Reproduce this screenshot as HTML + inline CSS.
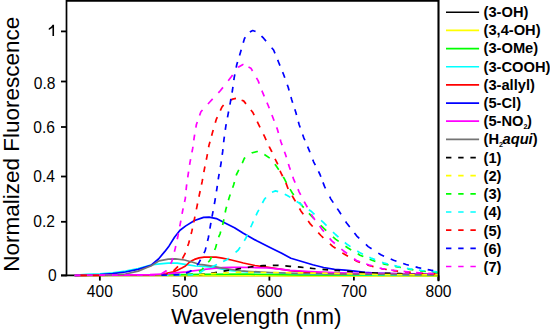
<!DOCTYPE html>
<html><head><meta charset="utf-8"><style>
html,body{margin:0;padding:0;background:#fff;width:550px;height:330px;overflow:hidden}
svg{display:block}
text{font-family:"Liberation Sans",sans-serif;fill:#000}
.tk{font-size:15.6px}
.lb{font-size:22.5px}
.lg{font-size:14.7px;font-weight:bold}
.sub{font-size:7.2px}
.cv path{fill:none;stroke-width:1.7;stroke-linejoin:round}
</style></head><body>
<svg width="550" height="330" viewBox="0 0 550 330">
<rect width="550" height="330" fill="#fff"/>
<path d="M66.5,275.4 V0.9 H438.5 V280.4" stroke="#000" stroke-width="1.7" fill="none" stroke-linecap="square"/>
<path d="M61,275.4 H438.5" stroke="#000" stroke-width="1.8"/>
<path d="M61,31.4 H66.5" stroke="#000" stroke-width="1.8"/>
<path d="M52.5,24.8 L54.05,24.8 L54.05,35.9 L52.45,35.9 L52.45,27.5 C51.7,28.4 50.3,29.3 48.8,29.9 L48.8,28.3 C50.6,27.5 51.8,26.3 52.5,24.8 Z" fill="#000"/>
<path d="M61,81.5 H66.5" stroke="#000" stroke-width="1.8"/>
<text x="55.5" y="88.5" text-anchor="end" class="tk">0.8</text>
<path d="M61,127.0 H66.5" stroke="#000" stroke-width="1.8"/>
<text x="54.9" y="133.4" text-anchor="end" class="tk">0.6</text>
<path d="M61,176.5 H66.5" stroke="#000" stroke-width="1.8"/>
<text x="54.9" y="182.3" text-anchor="end" class="tk">0.4</text>
<path d="M61,221.8 H66.5" stroke="#000" stroke-width="1.8"/>
<text x="54.9" y="226.7" text-anchor="end" class="tk">0.2</text>
<path d="M61,275.5 H66.5" stroke="#000" stroke-width="1.8"/>
<text x="56.6" y="280.5" text-anchor="end" class="tk">0</text>
<path d="M99.85,275.4 V280.6" stroke="#000" stroke-width="1.8"/>
<text x="99.85" y="297.0" text-anchor="middle" class="tk">400</text>
<path d="M185.0,275.4 V280.6" stroke="#000" stroke-width="1.8"/>
<text x="185.0" y="297.0" text-anchor="middle" class="tk">500</text>
<path d="M269.4,275.4 V280.6" stroke="#000" stroke-width="1.8"/>
<text x="269.4" y="297.0" text-anchor="middle" class="tk">600</text>
<path d="M353.9,275.4 V280.6" stroke="#000" stroke-width="1.8"/>
<text x="353.9" y="297.0" text-anchor="middle" class="tk">700</text>
<path d="M438.5,275.4 V280.6" stroke="#000" stroke-width="1.8"/>
<text x="438.5" y="297.0" text-anchor="middle" class="tk">800</text>
<g class="cv">
<path d="M74.7,275.3 L150.0,275.3 L200.0,275.6 L300.0,275.9 L438.5,275.9" stroke="#ffff00"/>
<path d="M74.7,275.3 L150.0,275.0 L200.0,274.3 L250.0,274.2 L300.0,275.0 L438.5,275.3" stroke="#00ff00"/>
<path d="M74.7,275.3 L80.0,274.8 L87.0,274.4 L100.0,273.8 L112.7,272.8 L125.5,271.2 L138.2,268.5 L150.9,265.0 L159.8,263.9 L168.2,263.2 L177.3,263.2 L186.4,264.6 L195.5,266.0 L204.1,266.4 L213.2,267.3 L222.3,269.1 L231.4,270.6 L240.5,271.4 L260.0,272.5 L290.0,273.5 L340.0,274.5 L438.5,275.2" stroke="#00ffff"/>
<path d="M74.7,275.3 L150.0,275.0 L160.9,274.5 L166.4,273.4 L173.6,271.8 L177.3,270.2 L181.8,268.0 L185.5,266.0 L189.1,262.5 L192.3,260.6 L194.5,259.4 L199.1,257.9 L204.1,257.1 L210.0,257.0 L216.0,257.2 L222.3,258.2 L231.4,260.0 L240.5,262.3 L243.3,263.0 L255.0,265.5 L268.3,267.3 L281.7,269.3 L290.0,270.6 L312.7,272.8 L340.0,273.8 L438.5,274.6" stroke="#ff0000"/>
<path d="M74.7,275.3 L88.2,275.0 L100.0,274.5 L112.7,273.6 L125.5,272.0 L138.2,269.4 L150.9,265.4 L158.5,259.0 L164.9,251.4 L169.1,245.9 L174.5,237.3 L180.0,230.2 L185.8,225.9 L194.5,220.5 L203.6,217.4 L209.1,217.2 L216.4,218.6 L225.5,223.2 L234.5,227.7 L243.3,233.3 L256.7,240.8 L270.0,247.5 L281.7,253.3 L290.9,258.2 L301.8,261.5 L312.7,264.7 L323.6,267.5 L334.5,269.3 L345.0,270.2 L355.0,271.2 L365.0,272.3 L375.0,273.0 L390.0,273.6 L410.0,274.0 L438.5,274.3" stroke="#0000ff"/>
<path d="M74.7,275.3 L150.0,274.6 L168.2,273.8 L177.3,272.7 L186.4,271.8 L191.0,271.2 L200.0,270.0 L204.6,269.4 L213.2,268.5 L222.3,267.7 L231.4,267.3 L240.5,267.3 L251.7,267.5 L268.3,268.0 L280.0,269.1 L290.0,270.3 L310.0,271.5 L340.0,272.9 L360.0,273.4 L390.0,273.5 L438.5,274.0" stroke="#ff00ff"/>
<path d="M74.7,275.3 L110.0,275.0 L125.5,274.0 L138.2,271.1 L146.4,267.7 L150.9,266.0 L159.1,260.9 L168.2,259.1 L175.5,258.9 L184.5,260.0 L192.7,262.3 L199.1,264.3 L204.1,264.8 L213.2,266.4 L222.3,268.2 L231.4,269.5 L240.5,270.9 L250.0,271.5 L270.0,272.5 L300.0,273.5 L340.0,274.0 L438.5,274.5" stroke="#747474"/>
<path d="M161.81,274.81 L167.51,274.78 M174.21,274.74 L179.91,274.71 M186.61,274.67 L192.31,274.64 M199.01,274.61 L200.00,274.60 L204.67,274.02 M211.32,273.21 L213.00,273.00 L216.95,272.28 M223.57,271.06 L225.00,270.80 L229.13,270.23 M235.49,269.37 L236.70,269.20 L241.08,268.48 M247.82,267.36 L250.00,267.00 L253.55,266.63 M260.29,265.92 L263.30,265.60 L266.04,265.54 M272.82,265.39 L276.70,265.30 L278.58,265.44 M285.34,265.95 L290.00,266.30 L291.09,266.39 M297.88,266.96 L300.70,267.20 L303.51,267.50 M309.87,268.19 L312.70,268.50 L315.53,268.75 M322.47,269.35 L325.30,269.60 L328.13,269.81 M334.46,270.29 L337.30,270.50 L340.14,270.72 M347.16,271.28 L350.00,271.50 L352.84,271.74 M359.13,272.26 L362.00,272.50 L364.88,272.61 M372.06,272.89 L375.00,273.00 L377.94,273.09 M384.76,273.30 L388.00,273.40 L390.44,273.44 M396.89,273.55 L400.00,273.60 L402.50,273.88 M409.18,274.52 L414.83,274.59 M421.41,274.68 L427.00,274.75 M433.52,274.84 L438.00,274.90" stroke="#000000"/>
<path d="M161.75,274.81 L167.45,274.78 M174.15,274.74 L179.85,274.71 M186.55,274.68 L192.25,274.64 M199.02,274.61 L200.00,274.60 L204.58,274.25 M210.81,273.77 L213.00,273.60 L216.39,273.41 M223.16,273.03 L228.88,272.71 M235.62,272.33 L238.00,272.20 L241.37,272.25 M248.12,272.34 L253.87,272.42 M260.62,272.51 L266.37,272.56 M273.12,272.63 L278.87,272.69 M285.68,272.76 L291.32,272.81 M297.68,272.88 L300.00,272.90 L303.32,272.94 M310.18,273.03 L315.82,273.10 M322.24,273.18 L327.76,273.25 M334.16,273.33 L339.83,273.40 M346.74,273.60 L352.56,273.78 M359.39,273.98 L365.21,274.16 M372.04,274.36 L377.86,274.54 M384.75,274.62 L390.45,274.65 M396.89,274.69 L402.51,274.72 M409.18,274.75 L414.82,274.78 M421.41,274.81 L426.99,274.84 M433.52,274.88 L438.00,274.90" stroke="#ffff00"/>
<path d="M162.41,275.05 L168.12,275.03 M174.81,275.01 L180.00,275.00 L180.52,274.98 M187.21,274.71 L190.00,274.60 L192.83,273.94 M198.86,271.52 L201.80,269.80 L203.44,267.85 M208.24,262.24 L210.00,260.20 L211.57,256.97 M214.65,250.04 L215.50,248.00 L216.64,244.11 M218.67,237.18 L218.90,236.40 L220.00,234.10 L220.71,231.54 M222.56,224.96 L223.30,222.30 L223.90,219.24 M225.22,212.49 L225.80,209.50 L226.57,206.80 M228.42,200.29 L229.30,197.20 L230.22,194.59 M232.66,187.67 L233.60,185.00 L234.44,181.95 M236.23,175.47 L236.50,174.50 L238.30,170.90 L238.80,169.92 M242.21,163.17 L242.60,162.40 L244.40,158.20 L245.26,157.60 M251.70,153.12 L252.30,152.70 L257.10,151.50 L257.78,151.78 M264.38,154.49 L264.40,154.50 L269.73,158.15 M274.83,164.22 L275.90,165.50 L278.77,169.80 M283.21,176.88 L284.40,178.80 L286.43,182.80 M290.05,189.14 L292.70,193.60 L293.77,195.00 M299.24,202.15 L301.80,205.50 L303.76,207.64 M308.98,213.32 L311.80,216.40 L314.03,218.63 M320.67,225.27 L323.60,228.20 L326.24,230.62 M332.95,236.76 L335.50,239.10 L338.70,241.38 M345.49,246.21 L348.00,248.00 L351.20,249.92 M357.74,253.85 L360.00,255.20 L363.34,256.59 M369.64,259.22 L372.70,260.50 L375.39,261.32 M382.61,263.52 L384.50,264.10 L388.51,264.95 M395.14,266.34 L397.30,266.80 L400.89,267.51 M407.65,268.84 L410.00,269.30 L413.40,269.81 M420.15,270.82 L422.70,271.20 L425.86,271.48 M432.51,272.07 L438.19,272.57" stroke="#00ff00"/>
<path d="M162.73,275.07 L168.43,275.06 M175.13,275.04 L180.83,275.02 M187.53,275.01 L190.00,275.00 L193.21,274.60 M199.44,273.03 L203.20,270.50 L204.52,269.96 M211.44,267.15 L212.30,266.80 L215.90,265.00 L216.98,264.47 M223.12,261.51 L226.70,259.80 L228.73,258.03 M235.58,252.28 L238.30,250.00 L240.14,247.14 M244.27,240.69 L245.80,238.30 L247.37,234.75 M250.69,227.27 L251.70,225.00 L253.31,221.46 M256.09,215.37 L257.30,212.70 L258.85,209.78 M262.43,203.00 L264.50,199.10 L265.98,197.46 M271.99,192.24 L275.50,190.90 L278.14,191.67 M284.74,194.28 L287.30,195.50 L290.28,197.39 M296.70,201.48 L299.10,203.00 L302.28,205.20 M308.90,209.79 L311.80,211.80 L314.51,214.30 M321.08,220.37 L323.60,222.70 L326.54,225.62 M333.01,232.03 L335.50,234.50 L338.47,237.03 M344.86,242.48 L347.00,244.30 L350.51,246.60 M357.26,251.03 L359.50,252.50 L362.96,254.16 M369.39,257.24 L371.80,258.40 L375.11,259.65 M382.07,262.28 L384.50,263.20 L387.83,264.01 M394.37,265.59 L397.30,266.30 L400.07,266.87 M406.89,268.27 L409.50,268.80 L412.53,269.21 M418.89,270.08 L422.00,270.50 L424.56,270.74 M431.42,271.37 L435.00,271.70 L437.21,271.89" stroke="#00ffff"/>
<path d="M162.31,274.77 L166.00,274.40 L167.83,273.59 M173.53,270.86 L178.01,266.30 M182.40,258.60 L184.80,254.10 L185.31,252.67 M187.71,245.98 L188.70,243.20 L189.45,240.35 M191.11,234.02 L191.80,231.40 L192.40,228.57 M193.71,222.37 L194.50,218.60 L194.90,216.65 M196.37,209.42 L196.90,206.80 L197.57,203.52 M198.95,196.71 L199.30,195.00 L200.15,191.03 M201.52,184.57 L202.20,181.40 L202.64,178.93 M203.85,172.20 L204.50,168.60 L204.93,166.49 M206.29,159.79 L206.90,156.80 L207.40,154.06 M208.63,147.23 L209.00,145.20 L209.97,141.70 M211.63,135.66 L212.70,131.80 L213.22,130.01 M215.30,122.86 L216.40,119.10 L217.34,117.04 M220.30,110.58 L221.80,107.30 L223.58,105.05 M230.15,100.20 L232.70,99.10 L235.99,98.40 M241.61,100.25 L243.60,100.90 L246.01,103.90 M250.87,109.93 L252.70,112.20 L254.16,115.22 M257.25,121.63 L258.20,123.60 L260.03,127.32 M263.48,134.32 L264.50,136.40 L266.16,140.04 M269.10,146.48 L269.20,146.70 L271.70,151.50 L271.93,152.01 M275.05,158.86 L275.30,159.40 L277.70,164.20 L277.75,164.34 M280.07,170.71 L280.80,172.70 L282.63,176.25 M285.91,182.91 L288.15,188.96 M292.08,195.64 L293.60,198.20 L295.47,201.45 M299.50,208.46 L300.90,210.90 L303.32,214.28 M308.18,221.06 L310.00,223.60 L312.67,226.52 M318.25,232.60 L320.90,235.50 L323.36,237.77 M329.96,243.87 L332.70,246.40 L335.57,248.32 M342.32,252.84 L344.50,254.30 L347.98,256.23 M354.26,259.71 L357.30,261.40 L360.05,262.36 M367.33,264.92 L369.00,265.50 L373.53,266.65 M381.00,268.55 L382.00,268.80 L386.77,269.53 M392.58,270.43 L395.00,270.80 L398.12,271.14 M405.08,271.89 L408.00,272.20 L410.84,272.44 M417.57,273.00 L420.00,273.20 L423.22,273.34 M429.71,273.62 L435.28,273.86 M80.4,275.3 L86.8,275.3 M92.7,275.3 L99.2,275.3" stroke="#ff0000"/>
<path d="M161.39,275.03 L167.00,275.01 M173.49,274.85 L179.28,274.61 M186.00,273.08 L189.60,271.80 L191.51,270.37 M197.09,265.06 L198.40,263.60 L200.52,259.72 M203.97,253.05 L205.20,250.60 L205.98,247.42 M207.53,241.06 L208.40,237.50 L208.75,235.41 M209.91,228.52 L210.50,225.00 L210.89,222.91 M212.05,216.71 L212.70,213.20 L213.09,211.06 M214.36,204.04 L215.00,200.50 L215.36,198.24 M216.44,191.48 L216.90,188.60 L217.30,185.85 M218.23,179.48 L218.70,176.30 L219.14,173.86 M220.37,167.03 L220.90,164.10 L221.29,161.38 M222.20,154.92 L222.70,151.40 L222.93,149.21 M223.67,142.27 L224.00,139.10 L224.37,136.52 M225.30,129.95 L225.80,126.40 L226.21,124.21 M227.50,117.33 L228.20,113.60 L228.60,111.53 M229.92,104.67 L230.30,102.70 L230.94,98.98 M232.06,92.53 L232.50,90.00 L232.93,86.87 M233.84,80.12 L234.20,77.50 L234.82,74.40 M236.16,67.70 L236.80,64.50 L237.55,62.01 M239.53,55.42 L240.50,52.20 L241.23,49.69 M243.24,42.81 L244.50,38.50 L245.35,37.17 M249.84,32.02 L252.70,30.50 L255.55,31.58 M261.49,36.05 L263.60,38.20 L266.05,41.09 M271.68,47.74 L273.60,50.00 L274.99,53.40 M277.67,59.94 L278.60,62.20 L279.98,65.60 M282.63,72.12 L283.60,74.50 L284.79,77.82 M287.26,84.69 L288.20,87.30 L289.08,90.42 M290.95,97.00 L291.80,100.00 L292.67,102.65 M294.82,109.22 L295.80,112.20 L296.53,114.93 M298.35,121.70 L299.10,124.50 L300.17,127.54 M302.64,134.58 L303.60,137.30 L304.88,140.27 M307.60,146.56 L308.70,149.10 L309.94,152.31 M312.74,159.57 L313.60,161.80 L315.32,165.21 M318.48,171.48 L320.00,174.50 L320.85,176.74 M322.97,182.35 L324.50,186.40 L325.48,188.34 M329.70,196.72 L330.90,199.10 L333.29,202.65 M337.30,208.62 L339.10,211.30 L341.01,214.29 M345.62,221.48 L346.40,222.70 L349.76,227.01 M354.46,233.05 L356.60,235.80 L359.25,238.26 M365.91,244.46 L368.20,246.60 L371.57,248.78 M378.29,253.12 L380.90,254.80 L384.06,256.17 M390.73,259.06 L393.60,260.30 L396.47,261.26 M403.19,263.50 L406.20,264.50 L408.90,265.20 M415.62,266.93 L418.20,267.60 L421.24,268.23 M427.67,269.57 L430.70,270.20 L433.25,270.62" stroke="#0000ff"/>
<path d="M74.70,275.30 L80.29,275.28 M86.98,275.26 L92.62,275.24 M99.12,275.21 L104.87,275.19 M111.89,275.17 L117.71,275.15 M124.41,275.12 L130.16,275.10 M136.90,275.08 L142.64,275.06 M149.38,275.03 L155.12,275.01 M161.42,273.57 L162.30,273.20 L166.40,270.70 L166.56,270.43 M170.55,263.70 L171.80,261.60 L172.72,258.07 M174.39,251.70 L175.20,248.60 L175.76,246.02 M177.23,239.23 L178.00,235.70 L178.44,233.41 M179.78,226.44 L180.40,223.20 L180.86,220.65 M182.08,213.92 L182.70,210.50 L183.17,208.34 M184.53,202.04 L185.30,198.50 L185.48,196.56 M186.09,190.11 L186.40,186.80 L186.74,184.38 M187.74,177.34 L188.20,174.10 L188.59,171.54 M189.61,164.88 L190.00,162.30 L190.61,159.16 M191.92,152.39 L192.70,148.40 L192.92,146.74 M193.80,140.30 L194.20,137.30 L194.67,134.58 M195.86,127.67 L196.40,124.50 L197.31,121.93 M199.58,115.52 L200.90,111.80 L202.53,110.01 M207.96,104.04 L210.00,101.80 L212.66,98.94 M218.34,92.83 L220.50,90.50 L222.97,87.37 M228.23,80.69 L230.90,77.30 L232.65,74.90 M238.03,67.53 L238.20,67.30 L243.00,64.50 L243.46,64.71 M248.49,67.07 L250.90,68.20 L252.52,71.02 M256.45,77.86 L258.20,80.90 L259.23,83.60 M261.91,90.63 L262.70,92.70 L264.26,96.33 M266.97,102.63 L268.20,105.50 L269.27,108.23 M271.92,115.01 L272.70,117.00 L274.11,120.70 M276.63,127.33 L277.30,129.10 L278.41,133.01 M280.27,139.57 L280.90,141.80 L282.12,145.16 M284.49,151.71 L285.50,154.50 L286.38,157.33 M288.41,163.91 L289.30,166.80 L290.32,169.72 M292.80,176.82 L293.60,179.10 L295.12,182.62 M297.97,189.19 L299.10,191.80 L300.71,194.86 M304.20,201.52 L305.50,204.00 L307.35,207.29 M311.27,214.26 L312.70,216.80 L314.98,219.88 M319.60,226.12 L321.80,229.10 L323.96,231.65 M329.64,238.35 L331.80,240.90 L334.83,243.48 M341.36,249.05 L343.30,250.70 L347.07,253.52 M354.07,258.76 L356.40,260.50 L359.90,261.74 M366.21,263.98 L369.10,265.00 L372.10,265.85 M379.58,267.97 L381.80,268.60 L385.28,269.12 M391.08,269.99 L394.50,270.50 L396.61,270.72 M403.60,271.45 L407.00,271.80 L409.37,272.00 M416.08,272.56 L419.00,272.80 L421.72,272.96 M428.18,273.34 L431.00,273.50 L433.82,273.61" stroke="#ff00ff"/>
</g>
<path d="M438.5,0 V280.6" stroke="#000" stroke-width="1.6"/>
<text class="lb" x="171.1" y="324.3">Wavelength (nm)</text>
<text class="lb" transform="translate(18.6,144.3) rotate(-90)" text-anchor="middle">Normalized Fluorescence</text>
<g class="cv">
<path d="M446,12.25 H479.1" stroke="#000000"/>
<text x="483.5" y="16.80" class="lg">(3-OH)</text>
<path d="M446,30.41 H479.1" stroke="#ffff00"/>
<text x="483.5" y="35.04" class="lg">(3,4-OH)</text>
<path d="M446,48.57 H479.1" stroke="#00ff00"/>
<text x="483.5" y="53.28" class="lg">(3-OMe)</text>
<path d="M446,66.73 H479.1" stroke="#00ffff"/>
<text x="483.5" y="71.52" class="lg">(3-COOH)</text>
<path d="M446,84.89 H479.1" stroke="#ff0000"/>
<text x="483.5" y="89.76" class="lg">(3-allyl)</text>
<path d="M446,103.05 H479.1" stroke="#0000ff"/>
<text x="483.5" y="108.00" class="lg">(5-Cl)</text>
<path d="M446,121.21 H479.1" stroke="#ff00ff"/>
<text x="483.5" y="126.24" class="lg">(5-NO<tspan class="sub" dy="2.8">2</tspan><tspan dy="-2.8" dx="-0.4">)</tspan></text>
<path d="M446,139.37 H479.1" stroke="#747474"/>
<text x="483.5" y="144.48" class="lg">(H<tspan class="sub" dy="2.6">2</tspan><tspan dy="-2.6" dx="-0.5" font-style="italic">aqui</tspan>)</text>
<path d="M446,157.53 H479.1" stroke="#000000" stroke-dasharray="5.4 6.8"/>
<text x="483.5" y="162.72" class="lg">(1)</text>
<path d="M446,175.69 H479.1" stroke="#ffff00" stroke-dasharray="5.4 6.8"/>
<text x="483.5" y="180.96" class="lg">(2)</text>
<path d="M446,193.85 H479.1" stroke="#00ff00" stroke-dasharray="5.4 6.8"/>
<text x="483.5" y="199.20" class="lg">(3)</text>
<path d="M446,212.01 H479.1" stroke="#00ffff" stroke-dasharray="5.4 6.8"/>
<text x="483.5" y="217.44" class="lg">(4)</text>
<path d="M446,230.17 H479.1" stroke="#ff0000" stroke-dasharray="5.4 6.8"/>
<text x="483.5" y="235.68" class="lg">(5)</text>
<path d="M446,248.33 H479.1" stroke="#0000ff" stroke-dasharray="5.4 6.8"/>
<text x="483.5" y="253.92" class="lg">(6)</text>
<path d="M446,266.49 H479.1" stroke="#ff00ff" stroke-dasharray="5.4 6.8"/>
<text x="483.5" y="272.16" class="lg">(7)</text>
</g>
</svg>
</body></html>
